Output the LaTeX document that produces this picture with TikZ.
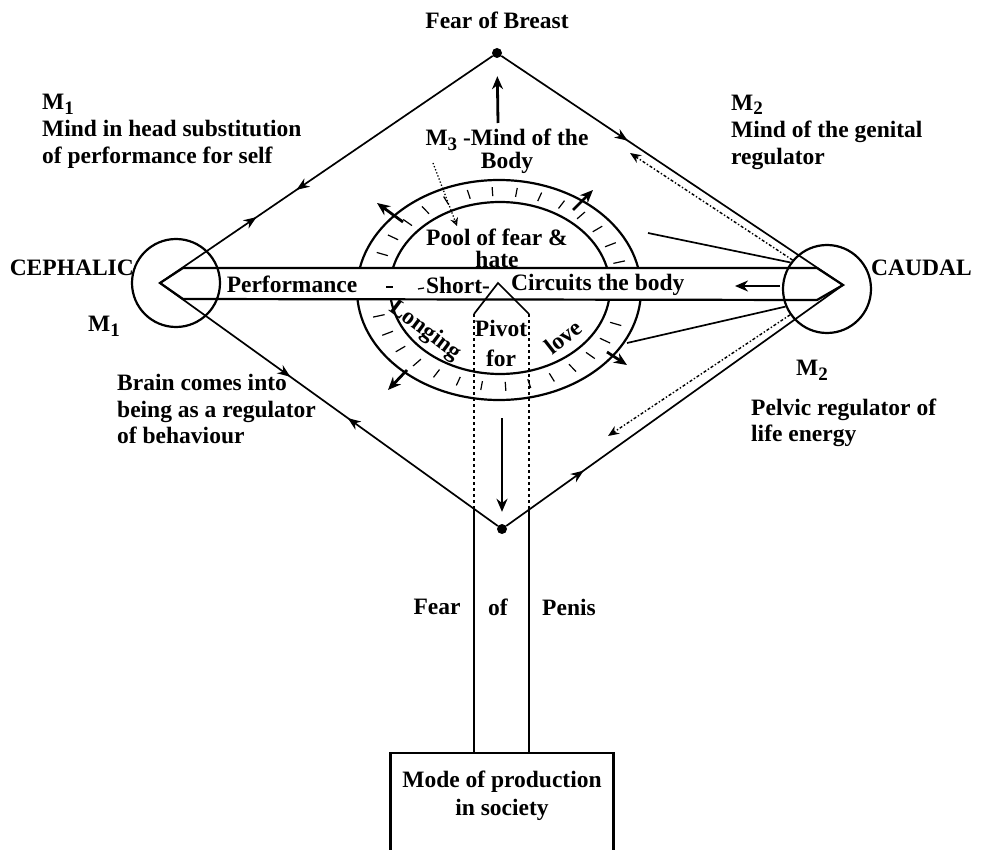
\documentclass[tikz,border=0pt]{standalone}
\usepackage{fontspec}
\setmainfont{Liberation Serif}
\usetikzlibrary{arrows, arrows.meta, decorations.markings, positioning}

\newcommand{\Msub}[1]{M\raisebox{-0.45ex}{\fontsize{19}{19}\selectfont #1}}

\tikzstyle{txt} = [font=\fontsize{23.5}{27}\selectfont\bfseries, inner sep=0pt]
\tikzstyle{side} = [line width=1.7pt]
\tikzstyle{ring} = [line width=2.2pt]
\tikzstyle{hub} = [draw, circle, line width=2.2pt, minimum size=88pt, inner sep=0pt]
\tikzstyle{vertex} = [circle, fill=black, inner sep=0pt, minimum size=10pt]
\tikzstyle{push} = [line width=2.8pt, -{Stealth[length=13pt, width=11pt]}]
\tikzstyle{hint} = [line width=1.4pt, dash dot, -{Stealth[length=11pt, width=9pt]}]
\tikzset{
  fwd at/.style={postaction={decorate, decoration={markings, mark=at position #1 with {\arrow{Stealth[length=13pt, width=10pt]}}}}},
  bwd at/.style={postaction={decorate, decoration={markings, mark=at position #1 with {\arrowreversed{Stealth[length=13pt, width=10pt]}}}}}
}

\begin{document}
\begin{tikzpicture}[x=1pt, y=-1pt]
  \useasboundingbox (0,0) rectangle (988,850);

  % Ring round the pool
  \draw[ring, fill=white] (499,290) ellipse [x radius=142, y radius=110];
  \draw[ring] (500,288) ellipse [x radius=110, y radius=86];
  \foreach \a in {16,27,...,164,196,207,...,344}
    \draw[line width=1.2pt] ({499+119*cos(\a)},{289-93*sin(\a)}) -- ({499+131*cos(\a)},{289-102*sin(\a)});

  % Short-circuit band
  \coordinate (ceph) at (160,283);
  \coordinate (caud) at (843,285);
  \draw[side, line width=2.2pt, fill=white] (ceph) -- (183,268) -- (817,268) -- (caud) -- (817,300) -- (183,299) -- cycle;
  \draw[line width=1.3pt] (386,287) -- (393,287);
  \draw[line width=1.3pt] (418,289) -- (424,288);

  % Diamond
  \node[vertex] (breast) at (497,53) {};
  \node[vertex] (penis) at (502,529) {};
  \draw[side, fwd at=0.59, bwd at=0.71] (breast) -- (ceph);
  \draw[side, fwd at=0.37] (breast) -- (caud);
  \draw[side, fwd at=0.386, bwd at=0.556] (ceph) -- (penis);
  \draw[side, fwd at=0.23] (penis) -- (caud);

  % Poles
  \node[hub] (cephalic) at (176,283) {};
  \node[hub] (caudal) at (827,289) {};

  % Lines from the caudal pole
  \coordinate (fanup) at (648,233);
  \coordinate (fandown) at (627,343);
  \coordinate (hintup) at (630,153);
  \coordinate (hintdown) at (608,436);
  \draw[side] (caudal.144) -- (fanup);
  \draw[side] (caudal.203) -- (fandown);
  \draw[hint] (caudal.140) -- (hintup);
  \draw[hint] (caudal.215) -- (hintdown);

  % Pivot column
  \coordinate (pivL) at (474,314);
  \coordinate (pivR) at (529,314);
  \coordinate (pivtop) at (498,283);
  \coordinate (pivLlow) at (474,509);
  \coordinate (pivRlow) at (529,509);
  \node[draw, line width=2.4pt, minimum width=223pt, minimum height=130pt, anchor=north] (modebox) at (502,752) {};
  \draw[side] (pivL) -- (pivtop) -- (pivR);
  \draw[side, dashed] (pivL) -- (pivLlow);
  \draw[side, dashed] (pivR) -- (pivRlow);
  \draw[side] (pivLlow) -- (pivLlow |- modebox.north);
  \draw[side] (pivRlow) -- (pivRlow |- modebox.north);

  % Thrusts
  \draw[push, shorten >=18pt] (498,123) -- (breast);
  \draw[push, shorten >=12pt] (502,418) -- (penis);
  \draw[push] (780,286) -- (735,286);
  \draw[push] (403,222) -- (377,203);
  \draw[push] (573,210) -- (593,190);
  \draw[push] (407,370) -- (388,390);
  \draw[push] (607,352) -- (627,365);
  \draw[line width=1.3pt, dotted, -{Stealth[open, length=8pt, width=8pt]}] (433,163) -- (457,226);

  % Texts
  \node[txt] (breasttxt) at (497,20) {Fear of Breast};
  \node[txt, anchor=west, align=left] (m1txt) at (42,131) {\Msub{1}\\Mind in head substitution\\of performance for self};
  \node[txt, anchor=west, align=left] (m2txt) at (731,132) {\Msub{2}\\Mind of the genital\\regulator};
  \node[txt, align=center, font=\fontsize{23.5}{23}\selectfont\bfseries] (m3txt) at (507,151) {\Msub{3} -Mind of the\\Body};
  \node[txt, align=center, font=\fontsize{23.5}{22}\selectfont\bfseries] (pooltxt) at (497,248) {Pool of fear \&\\hate};
  \node[txt, anchor=east] (cephtxt) at (134,268) {CEPHALIC};
  \node[txt, anchor=west] (caudtxt) at (871,268) {CAUDAL};
  \node[txt] (m1low) at (104,326) {\Msub{1}};
  \node[txt] (m2low) at (812,370) {\Msub{2}};
  \node[txt] (perftxt) at (292,284) {Performance};
  \node[txt] (shorttxt) at (458,285) {Short-};
  \node[txt, anchor=west] (circtxt) at (511,285) {Circuits the body};
  \node[txt, rotate=-37] (longtxt) at (425,331) {Longing};
  \node[txt, align=center, font=\fontsize{23.5}{30}\selectfont\bfseries] (pivtxt) at (501,343) {Pivot\\for};
  \node[txt, rotate=38] (lovetxt) at (563,337) {love};
  \node[txt, anchor=west, align=left, font=\fontsize{23.5}{26.5}\selectfont\bfseries] (braintxt) at (117,409) {Brain comes into\\being as a regulator\\of behaviour};
  \node[txt, anchor=west, align=left, font=\fontsize{23.5}{26}\selectfont\bfseries] (pelvtxt) at (751,423) {Pelvic regulator of\\life energy};
  \node[txt] (feartxt) at (437,607) {Fear};
  \node[txt] (oftxt) at (498,607) {of};
  \node[txt] (penistxt) at (569,607) {Penis};
  \node[txt, align=center, font=\fontsize{23.5}{28}\selectfont\bfseries] (mode) at (502,796) {Mode of production\\in society};
\end{tikzpicture}
\end{document}
